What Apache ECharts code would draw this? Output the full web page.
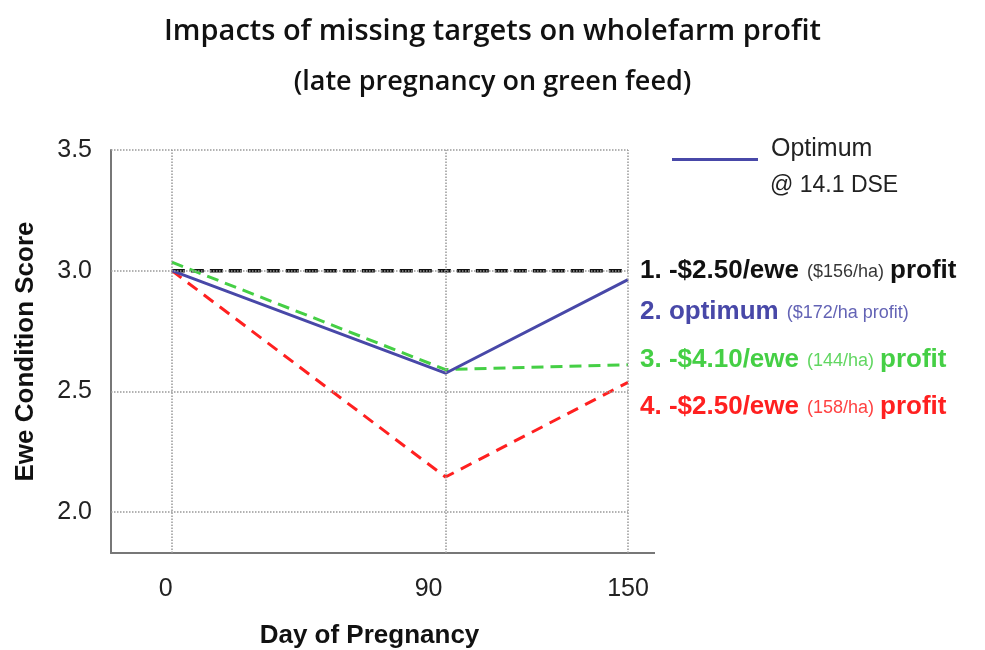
<!DOCTYPE html>
<html>
<head>
<meta charset="utf-8">
<title>Impacts of missing targets on wholefarm profit</title>
<script src="https://cdn.jsdelivr.net/npm/echarts@6/dist/echarts.min.js"></script>
<style>
	html, body { margin: 0; padding: 0; background: #fff; }
	#LineChart { width: 985px; height: 650px; }
</style>
</head>
<body>
<div id="LineChart"></div>
<script>
//data
var dayAry = [0, 90, 150];
var noChangeAry = [3.0, 3.0, 3.0];       //1. black dashed
var optimumAry = [3.0, 2.575, 2.963];    //2. blue solid (optimum)
var greenAry = [3.035, 2.59, 2.61];      //3. green dashed
var redAry = [3.0, 2.145, 2.537];        //4. red dashed
var xTickAry = [0, 90, 150];
var yTickAry = [2.0, 2.5, 3.0, 3.5];

//annotation texts on the right
var noteAry = [
	['1. -$2.50/ewe', '($156/ha)', 'profit'],
	['2. optimum', '($172/ha profit)', ''],
	['3. -$4.10/ewe', '(144/ha)', 'profit'],
	['4. -$2.50/ewe', '(158/ha)', 'profit']
];
var noteColor = ['#111111', '#4848a8', '#45cf45', '#ff2020'];
var noteY = [271, 312, 360, 407];

function pairs(xs, ys) {
	var out = [];
	for (var i = 0; i < xs.length; i++) {
		out.push([xs[i], ys[i]]);
	}
	return out;
}

function buildNotes() {
	var items = [];
	for (var i = 0; i < noteAry.length; i++) {
		var c = noteColor[i];
		var txt = '{h|' + noteAry[i][0] + '}{s|' + noteAry[i][1] + '}';
		if (noteAry[i][2]) txt += '{t|' + noteAry[i][2] + '}';
		items.push({
			type: 'text',
			style: {
				x: 640,
				y: noteY[i],
				verticalAlign: 'middle',
				text: txt,
				fill: c,
				fontFamily: 'Liberation Sans',
				rich: {
					h: { fontFamily: 'Liberation Sans', fontWeight: 'bold', fontSize: 26, fill: c, padding: [0, 8, 0, 0] },
					s: { fontFamily: 'Liberation Sans', fontSize: 18, fill: c, opacity: 0.85, padding: [2, 6, 0, 0] },
					t: { fontFamily: 'Liberation Sans', fontWeight: 'bold', fontSize: 26, fill: c }
				}
			}
		});
	}
	//second line of the legend
	items.push({
		type: 'text',
		style: { x: 770, y: 186, verticalAlign: 'middle', text: '@ 14.1 DSE', fontFamily: 'Liberation Sans', fontSize: 23, fill: '#222' }
	});
	//bottom axis runs a bit past the last day
	items.push({
		type: 'line',
		shape: { x1: 628, y1: 553, x2: 655, y2: 553 },
		style: { stroke: '#777', lineWidth: 2 }
	});
	return items;
}

var gridLines = [];
for (var i = 0; i < xTickAry.length; i++) gridLines.push({ xAxis: xTickAry[i] });
for (var j = 0; j < yTickAry.length; j++) gridLines.push({ yAxis: yTickAry[j] });

var myChart = echarts.init(document.getElementById('LineChart'));
var option = {
	animation: false,
	title: {
		text: 'Impacts of missing targets on wholefarm profit',
		subtext: '(late pregnancy on green feed)',
		left: 'center',
		top: 12,
		itemGap: 23,
		textStyle: { fontFamily: 'Open Sans', fontWeight: 600, fontSize: 29, color: '#111' },
		subtextStyle: { fontFamily: 'Open Sans', fontWeight: 600, fontSize: 27, color: '#111' }
	},
	legend: {
		data: ['Optimum'],
		left: 672,
		top: 137,
		padding: 0,
		icon: 'rect',
		itemWidth: 86,
		itemHeight: 3,
		formatter: '{a|{name}}',
		textStyle: {
			color: '#222',
			rich: {
				a: { fontFamily: 'Liberation Sans', fontSize: 25, color: '#222', padding: [0, 0, 20, 8] }
			}
		}
	},
	grid: { left: 111, right: 357, top: 150, bottom: 97, outerBoundsMode: 'none' },
	xAxis: {
		type: 'value',
		min: -20,
		max: 150,
		name: 'Day of Pregnancy',
		nameLocation: 'middle',
		nameGap: 70,
		nameTextStyle: { fontFamily: 'Liberation Sans', fontWeight: 'bold', fontSize: 26, color: '#111' },
		axisLine: { show: true, onZero: false, lineStyle: { color: '#777', width: 2 } },
		axisTick: { show: false },
		splitLine: { show: false },
		axisLabel: {
			customValues: xTickAry,
			margin: 24,
			fontFamily: 'Liberation Sans', fontSize: 25, color: '#222',
			//the labels sit a little left of their grid lines
			formatter: function (v) {
				if (v === 0) return '{a|0}';
				if (v === 90) return '{b|90}';
				return '{c|' + v + '}';
			},
			rich: {
				a: { fontFamily: 'Liberation Sans', fontSize: 25, color: '#222', padding: [0, 12, 0, 0] },
				b: { fontFamily: 'Liberation Sans', fontSize: 25, color: '#222', padding: [0, 34, 0, 0] },
				c: { fontFamily: 'Liberation Sans', fontSize: 25, color: '#222' }
			}
		}
	},
	yAxis: {
		type: 'value',
		min: 1.83,
		max: 3.5,
		name: 'Ewe Condition Score',
		nameLocation: 'middle',
		nameGap: 72,
		nameTextStyle: { fontFamily: 'Liberation Sans', fontWeight: 'bold', fontSize: 26, color: '#111' },
		axisLine: { show: true, onZero: false, lineStyle: { color: '#777', width: 2 } },
		axisTick: { show: false },
		splitLine: { show: false },
		axisLabel: {
			customValues: yTickAry,
			margin: 19,
			fontFamily: 'Liberation Sans', fontSize: 25, color: '#222',
			formatter: function (v) { return v.toFixed(1); }
		}
	},
	graphic: buildNotes(),
	series: [
		{
			name: 'grid',
			type: 'line',
			data: [],
			silent: true,
			markLine: {
				silent: true,
				symbol: ['none', 'none'],
				label: { show: false },
				lineStyle: { type: 'dotted', color: '#999', width: 1.5 },
				emphasis: { disabled: true },
				data: gridLines
			}
		},
		{
			name: 'No change',
			type: 'line',
			data: pairs(dayAry, noChangeAry),
			symbol: 'none',
			lineStyle: { color: '#111', width: 3.5, type: [13, 6] }
		},
		{
			name: 'Green',
			type: 'line',
			data: pairs(dayAry, greenAry),
			symbol: 'none',
			lineStyle: { color: '#45cf45', width: 3, type: [12, 7] }
		},
		{
			name: 'Red',
			type: 'line',
			data: pairs(dayAry, redAry),
			symbol: 'none',
			lineStyle: { color: '#ff2020', width: 3, type: [12, 8] }
		},
		{
			name: 'Optimum',
			type: 'line',
			data: pairs(dayAry, optimumAry),
			symbol: 'none',
			itemStyle: { color: '#4848a8' },
			lineStyle: { color: '#4848a8', width: 3 }
		}
	]
};

//load the option into the chart
myChart.setOption(option);
window.onresize = myChart.resize;
</script>
</body>
</html>
